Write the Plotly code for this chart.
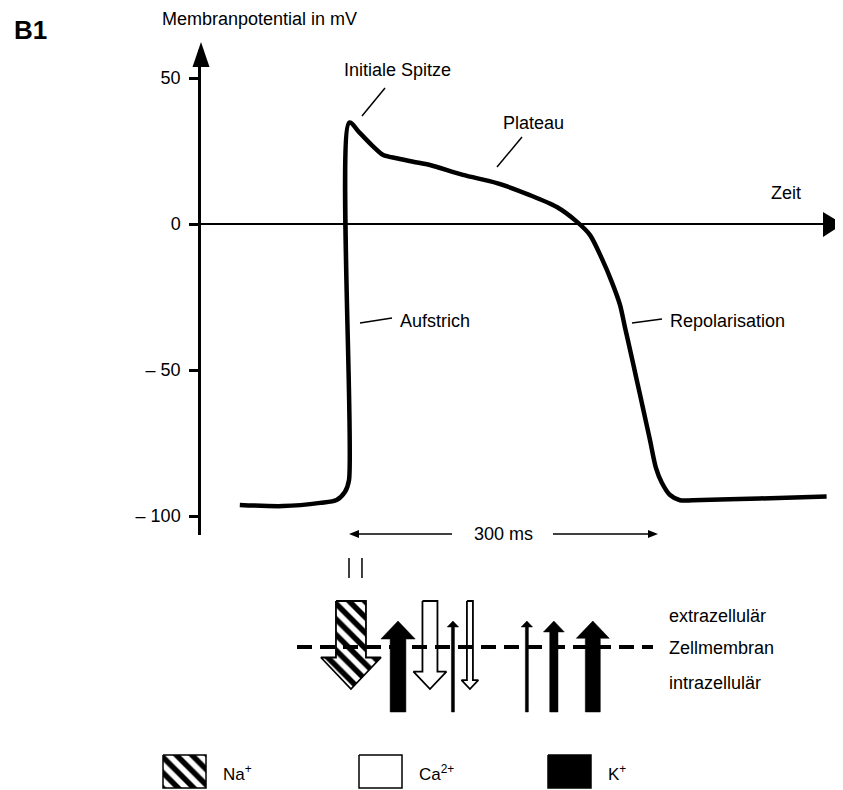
import plotly.graph_objects as go

# ---------------- data ----------------
# action potential (time in ms, membrane potential in mV)
time_ms = [-106, -64, -28, -12, -4, 0, 0.3, 10.7, 23.6, 33.3, 46.3, 62.4, 78.6, 110.6,
           143.6, 175.6, 201.8, 221.1, 234.0, 245.3, 255.1, 263.1, 268.0, 272.8, 279.3,
           285.7, 292.2, 298.0, 303.6, 311.7, 321.4, 333.7, 398.7, 463.7]
potential_mV = [-96.2, -96.6, -95.5, -94.5, -91.8, -87.7, 34.7, 31.1, 26.5, 23.6, 22.5,
                21.3, 20.2, 16.8, 14.0, 9.9, 5.8, 0.8, -3.8, -11.7, -19.8, -27.7, -35.5,
                -43.0, -53.3, -63.5, -74.0, -83.5, -88.5, -92.8, -94.6, -94.6, -94.0,
                -93.3]

ytick_values = [50, 0, -50, -100]
ytick_labels = ["50", "0", "– 50", "– 100"]

# ion currents across the membrane (direction: -1 = into the cell, +1 = out of the cell)
flux_ion = ["Na", "K", "Ca", "K", "Ca", "K", "K", "K"]
flux_direction = [-1, 1, -1, 1, -1, 1, 1, 1]
flux_time_ms = [1.9, 47.6, 78.6, 100.9, 117.4, 172.7, 198.9, 236.7]
flux_strength = [4.0, 2.1, 2.0, 0.4, 0.8, 0.4, 1.1, 2.0]

na_window_ms = [0, 12.6]
duration_ms = 300
duration_label = "300 ms"

legend_ions = ["Na", "Ca", "K"]
legend_labels = ["Na<sup>+</sup>", "Ca<sup>2+</sup>", "K<sup>+</sup>"]

# ---------------- geometry helpers ----------------
OFF = 8                       # page body margin of the browser
W, H = 843 - OFF, 790 - OFF   # figure size that fits into the window
FONT = "Liberation Sans, Arial, sans-serif"
X0_PX = 349.0            # window pixel of t = 0
MS_PER_PX = 300.0 / 309.0
Y0_PX = 224.0            # window pixel of 0 mV
PX_PER_MV = 2.92


def xp(px):
    return (px - OFF) / W


def yp(py):
    return 1 - (py - OFF) / H


def px2t(px):
    return (px - X0_PX) * MS_PER_PX


def t2px(t):
    return X0_PX + t / MS_PER_PX


ion_style = {
    "Na": dict(fillcolor="white",
               fillpattern=dict(shape="\\", fgcolor="black", bgcolor="white",
                                fgopacity=1, size=11, solidity=0.5)),
    "Ca": dict(fillcolor="white"),
    "K": dict(fillcolor="black"),
}

fig = go.Figure()

# action potential curve
fig.add_trace(go.Scatter(
    x=time_ms, y=potential_mV, mode="lines",
    line=dict(color="black", width=4.5, shape="spline", smoothing=0.8),
    hoverinfo="skip", showlegend=False, xaxis="x", yaxis="y"))

# ion flux arrows (bottom panel, vertical units = window pixels)
for ion, d, t, s in zip(flux_ion, flux_direction, flux_time_ms, flux_strength):
    cx = t2px(t)
    w = 3.75 * s
    hw = 1.8 * w + 3
    hl = 1.05 * hw
    if d < 0:
        y0, yt = 601, 689
        yb = yt - hl
    else:
        y0, yt = 712, 621
        yb = yt + hl
    xs_px = [cx - w, cx + w, cx + w, cx + hw, cx, cx - hw, cx - w, cx - w]
    ys_px = [y0, y0, yb, yb, yt, yb, yb, y0]
    lw = 0.5 if ion == "K" else 1.8
    fig.add_trace(go.Scatter(
        x=[px2t(v) for v in xs_px], y=ys_px, mode="lines", fill="toself",
        line=dict(color="black", width=lw),
        hoverinfo="skip", showlegend=False, xaxis="x2", yaxis="y2", **ion_style[ion]))

# legend squares
leg_left_px = [163, 359, 548]
for ion, lx in zip(legend_ions, leg_left_px):
    xs_px = [lx, lx + 43, lx + 43, lx, lx]
    ys_px = [755, 755, 788, 788, 755]
    fig.add_trace(go.Scatter(
        x=[px2t(v) for v in xs_px], y=ys_px, mode="lines", fill="toself",
        line=dict(color="black", width=1.5),
        hoverinfo="skip", showlegend=False, xaxis="x2", yaxis="y2", **ion_style[ion]))

shapes = []


def tri(p1, p2, p3):
    shapes.append(dict(type="path", xref="paper", yref="paper",
                       path=f"M {xp(p1[0])},{yp(p1[1])} L {xp(p2[0])},{yp(p2[1])} "
                            f"L {xp(p3[0])},{yp(p3[1])} Z",
                       fillcolor="black", line=dict(width=0)))


def seg(a, b, c, e, width=1.5, dash=None):
    ln = dict(color="black", width=width)
    if dash:
        ln["dash"] = dash
    shapes.append(dict(type="line", xref="paper", yref="paper",
                       x0=xp(a), y0=yp(b), x1=xp(c), y1=yp(e), line=ln))


# axis arrowheads
tri((201, 42), (192.5, 67), (209.5, 67))
tri((843, 224), (823, 212), (823, 237))
# leader lines
for (a, b, c, e) in [(385, 88, 362, 116), (522, 137, 497, 167),
                     (360, 323, 392, 318), (632, 323, 662, 319)]:
    seg(a, b, c, e)
# Na window marks
for t in na_window_ms:
    seg(t2px(t), 558, t2px(t), 578)
# 300 ms double arrow
xl, xr = t2px(0), t2px(duration_ms)
seg(xl + 6, 534, 452, 534)
seg(553, 534, xr - 6, 534)
tri((xl, 534), (xl + 10, 530), (xl + 10, 538))
tri((xr, 534), (xr - 10, 530), (xr - 10, 538))
# membrane
seg(297, 647, 653, 647, width=4, dash="15px,8px")

ann = []


def txt(s, x, y, anchor="center", size=18, bold=False):
    ann.append(dict(text=f"<b>{s}</b>" if bold else s, x=xp(x), y=yp(y),
                    xref="paper", yref="paper", xanchor=anchor, yanchor="middle",
                    showarrow=False, font=dict(family=FONT, size=size, color="black")))


txt("B1", 30, 30, size=26, bold=True)
txt("Membranpotential in mV", 260, 19)
txt("Initiale Spitze", 397, 70)
txt("Plateau", 533, 123)
txt("Zeit", 786, 193)
txt("Aufstrich", 398, 321, anchor="left")
txt("Repolarisation", 668, 321, anchor="left")
txt(duration_label, 503, 534)
txt("extrazellulär", 667, 616, anchor="left")
txt("Zellmembran", 667, 648, anchor="left")
txt("intrazellulär", 667, 683, anchor="left")
for lab, lx in zip(legend_labels, leg_left_px):
    txt(lab, lx + 58, 773, anchor="left", size=17)

fig.update_layout(
    width=W, height=H, margin=dict(l=0, r=0, t=0, b=0),
    paper_bgcolor="white", plot_bgcolor="white",
    shapes=shapes, annotations=ann, showlegend=False,
    font=dict(family=FONT, color="black"),
    xaxis=dict(domain=[xp(201), xp(832)], range=[px2t(201), px2t(832)],
               showgrid=False, zeroline=False, showline=False,
               showticklabels=False, ticks=""),
    yaxis=dict(domain=[yp(535), yp(50)],
               range=[(Y0_PX - 535) / PX_PER_MV, (Y0_PX - 50) / PX_PER_MV],
               showgrid=False, zeroline=True, zerolinecolor="black", zerolinewidth=2,
               showline=True, linecolor="black", linewidth=2.5,
               ticks="outside", ticklen=9, tickwidth=3, tickcolor="black",
               tickvals=ytick_values, ticktext=ytick_labels, ticklabelstandoff=5,
               tickfont=dict(family=FONT, size=18, color="black")),
    xaxis2=dict(domain=[0, 1], range=[px2t(OFF), px2t(843)], anchor="y2",
                showgrid=False, zeroline=False, showline=False,
                showticklabels=False, ticks=""),
    yaxis2=dict(domain=[0, yp(540)], range=[790, 540], anchor="x2",
                showgrid=False, zeroline=False, showline=False,
                showticklabels=False, ticks=""),
)

fig.write_html("out.html")
